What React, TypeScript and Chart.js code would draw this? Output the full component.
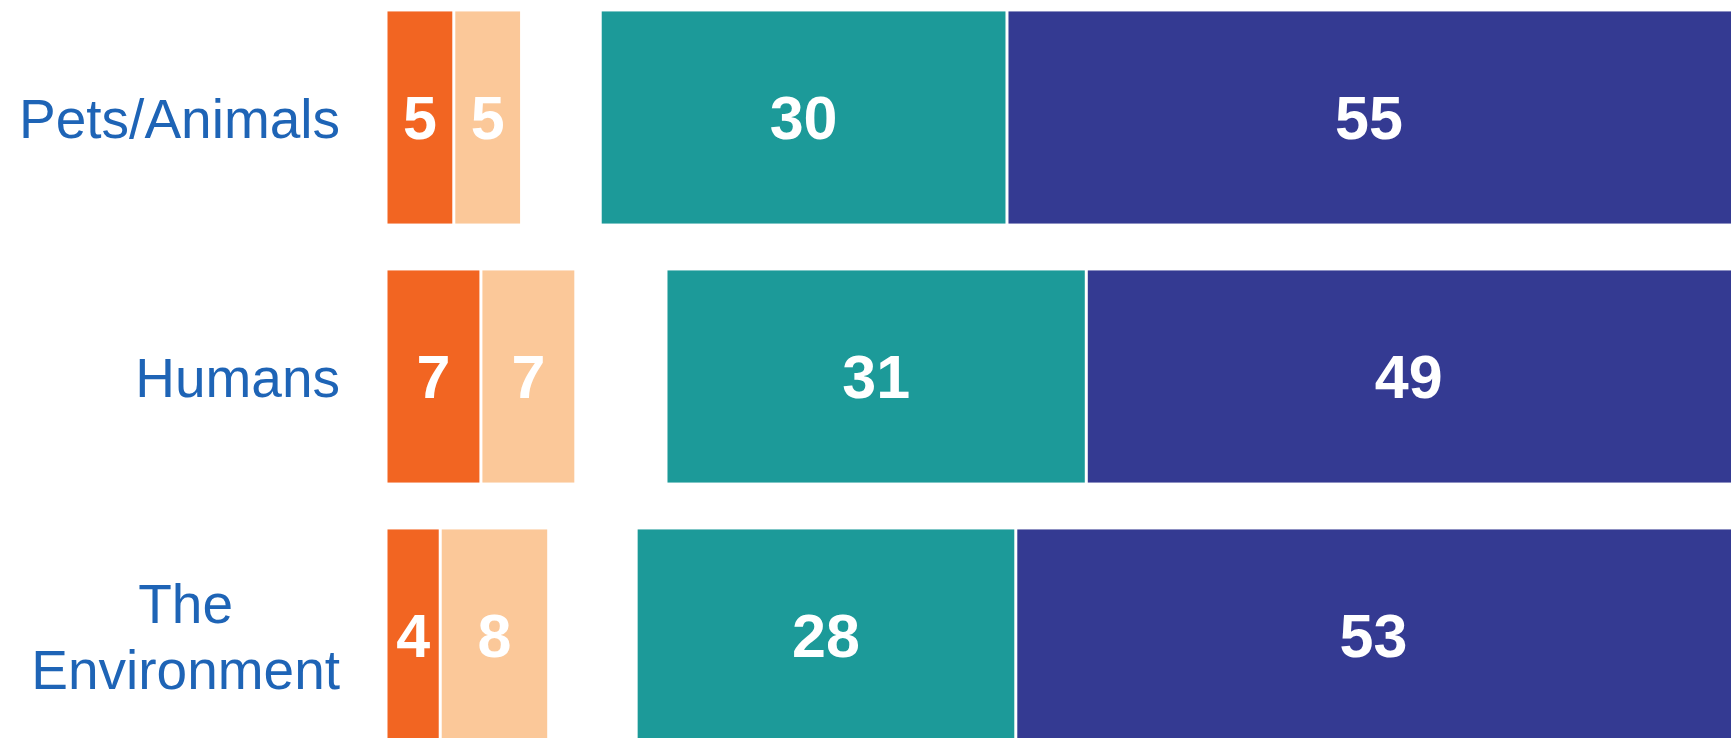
import React, { useEffect, useRef } from "react";
import { Chart, registerables } from "chart.js";

Chart.register(...registerables);

const categories: (string | string[])[] = ["Pets/Animals", "Humans", ["The", "Environment"]];
const stronglyDisagree = [5, 7, 4];
const disagree = [5, 7, 8];
const spacer = [5.8, 6.65, 6.45];
const agree = [30, 31, 28];
const stronglyAgree = [55, 49, 53];
const xMax = 99.2;

const COLORS = {
  sd: "#F26522",
  d: "#FBC899",
  a: "#1C9A99",
  sa: "#343A92",
  label: "#1E64B6",
};

const TEXT_DY = 5;

const labelPlugin = {
  id: "customLabels",
  afterDatasetsDraw(chart: any) {
    const ctx = chart.ctx;
    const area = chart.chartArea;
    ctx.save();
    // value labels
    chart.data.datasets.forEach((ds: any, di: number) => {
      if (ds.isSpacer) return;
      const meta = chart.getDatasetMeta(di);
      meta.data.forEach((el: any, i: number) => {
        const p = el.getProps(["x", "base", "y"], true);
        const left = Math.min(p.x, p.base);
        const right = Math.min(Math.max(p.x, p.base), area.right);
        const cx = (left + right) / 2;
        ctx.fillStyle = "#ffffff";
        ctx.font = "bold 61px 'Liberation Sans', Arial, sans-serif";
        ctx.textAlign = "center";
        ctx.textBaseline = "middle";
        ctx.fillText(String(ds.data[i]), cx, p.y + TEXT_DY);
      });
    });
    // category labels
    const yScale = chart.scales.y;
    const rightEdge = 340;
    const lineH = 66;
    ctx.font = "55px 'Liberation Sans', Arial, sans-serif";
    ctx.fillStyle = COLORS.label;
    ctx.textBaseline = "middle";
    ctx.textAlign = "center";
    categories.forEach((cat, i) => {
      const lines = Array.isArray(cat) ? cat : [cat];
      const widths = lines.map((l) => ctx.measureText(l).width);
      const blockW = Math.max(...widths);
      const cx = rightEdge - blockW / 2;
      const cy = yScale.getPixelForValue(i) + TEXT_DY;
      const top = cy - ((lines.length - 1) * lineH) / 2;
      lines.forEach((l, j) => {
        ctx.fillText(l, cx, top + j * lineH);
      });
    });
    ctx.restore();
  },
};

export default function App() {
  const canvasRef = useRef<HTMLCanvasElement | null>(null);

  useEffect(() => {
    if (!canvasRef.current) return;
    const border = { left: 1.5, right: 1.5, top: 0, bottom: 0 };
    const chart = new Chart(canvasRef.current, {
      type: "bar",
      data: {
        labels: categories.map((c) => (Array.isArray(c) ? c.join(" ") : c)),
        datasets: [
          { label: "Strongly disagree", data: stronglyDisagree, backgroundColor: COLORS.sd, borderColor: "#ffffff", borderWidth: border, borderSkipped: false },
          { label: "Disagree", data: disagree, backgroundColor: COLORS.d, borderColor: "#ffffff", borderWidth: border, borderSkipped: false },
          { label: "", data: spacer, backgroundColor: "rgba(0,0,0,0)", borderWidth: 0, isSpacer: true } as any,
          { label: "Agree", data: agree, backgroundColor: COLORS.a, borderColor: "#ffffff", borderWidth: border, borderSkipped: false },
          { label: "Strongly agree", data: stronglyAgree, backgroundColor: COLORS.sa, borderColor: "#ffffff", borderWidth: border, borderSkipped: false },
        ],
      },
      options: {
        indexAxis: "y",
        responsive: false,
        animation: false,
        devicePixelRatio: 1,
        layout: { padding: { left: 386, right: 0, top: 0, bottom: 0 } },
        datasets: { bar: { barPercentage: 0.82, categoryPercentage: 1 } },
        scales: {
          x: { stacked: true, min: 0, max: xMax, display: false },
          y: { stacked: true, display: false },
        },
        plugins: {
          legend: { display: false },
          tooltip: { enabled: false },
        },
      },
      plugins: [labelPlugin],
    });
    return () => chart.destroy();
  }, []);

  return (
    <div
      style={{
        position: "fixed",
        left: 0,
        top: 0,
        width: 1731,
        height: 738,
        overflow: "hidden",
        background: "#ffffff",
      }}
    >
      <canvas
        ref={canvasRef}
        width={1731}
        height={777}
        style={{ position: "absolute", left: 0, top: -12, width: 1731, height: 777 }}
      />
    </div>
  );
}
